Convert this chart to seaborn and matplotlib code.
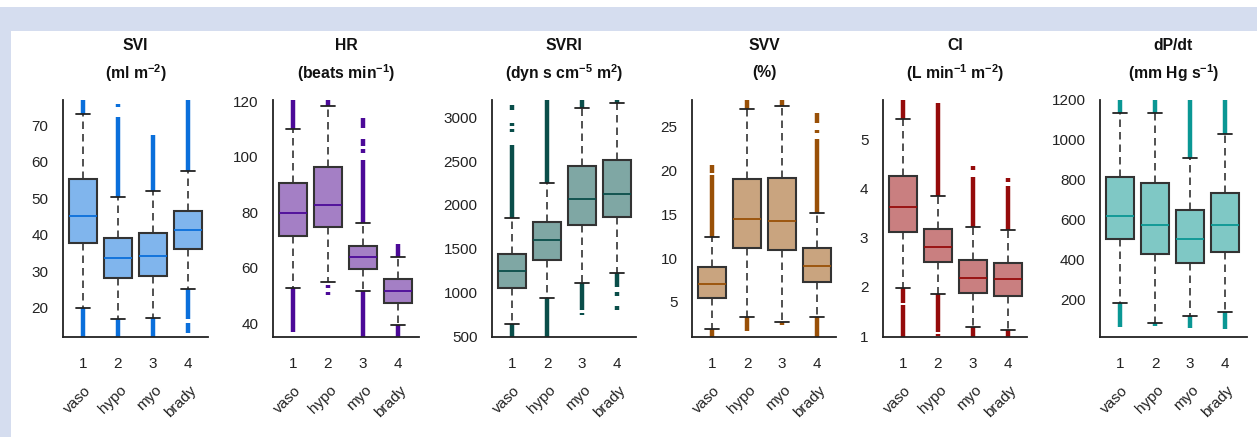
import matplotlib
matplotlib.use("Agg")
import matplotlib.pyplot as plt
import matplotlib.transforms as mtransforms
from matplotlib.patches import Rectangle
import numpy as np
import pandas as pd
import seaborn as sns

groups = ["1", "2", "3", "4"]
group_names = ["vaso", "hypo", "myo", "brady"]

titles = ["SVI", "HR", "SVRI", "SVV", "CI", "dP/dt"]
units = [r"(ml m$^{-2}$)", r"(beats min$^{-1}$)", r"(dyn s cm$^{-5}$ m$^{2}$)",
         "(%)", r"(L min$^{-1}$ m$^{-2}$)", r"(mm Hg s$^{-1}$)"]

# five number summaries per group: whisker low, q1, median, q3, whisker high
svi_stats = [[20, 37.7, 45.2, 55.4, 73.1], [16.9, 28.1, 33.7, 39.2, 50.5],
             [17.1, 28.7, 34.2, 40.4, 52.1], [25.3, 36.0, 41.3, 46.6, 57.4]]
hr_stats = [[52.5, 71.6, 79.9, 90.7, 110.1], [54.7, 74.6, 82.6, 96.5, 118.2],
            [51.7, 59.7, 63.9, 67.8, 76.2], [39.2, 47.4, 51.6, 55.8, 63.9]]
svri_stats = [[640, 1045, 1245, 1443, 1852], [932, 1370, 1598, 1807, 2253],
              [1106, 1776, 2068, 2443, 3114], [1219, 1860, 2125, 2510, 3170]]
svv_stats = [[1.94, 5.45, 7.08, 8.97, 12.37], [3.33, 11.1, 14.45, 18.98, 26.97],
             [2.69, 10.9, 14.27, 19.06, 27.26], [3.33, 7.27, 9.09, 11.1, 15.1]]
ci_stats = [[1.97, 3.12, 3.62, 4.26, 5.41], [1.85, 2.50, 2.82, 3.18, 3.85],
            [1.19, 1.88, 2.19, 2.55, 3.22], [1.12, 1.81, 2.16, 2.48, 3.16]]
dpdt_stats = [[183, 501, 618, 815, 1133], [80, 427, 573, 782, 1133],
              [113, 381, 501, 648, 911], [138, 436, 573, 732, 1028]]

# outlier runs (dense dots) per group as (from, to)
svi_out = [[(73.1, 77), (12, 20)],
           [(50.5, 72.3), (75.2, 76), (12, 16.9)],
           [(52.1, 67.4), (12, 17.1)],
           [(57.4, 77), (16.8, 25.3), (13, 15.8)]]
hr_out = [[(110.1, 120.5), (36.8, 52.5)],
          [(118.2, 120.5), (50.1, 51.2), (52.6, 53.8)],
          [(76.2, 98.8), (101.5, 103), (104, 106.3), (110.5, 114), (35, 51.7)],
          [(63.9, 68.7), (35, 39.2)]]
svri_out = [[(1852, 2690), (2830, 2870), (2900, 2940), (3090, 3140), (490, 640)],
            [(2253, 3200), (490, 932)],
            [(3114, 3200), (795, 1106), (745, 770)],
            [(3170, 3200), (1060, 1219), (960, 1000), (800, 840)]]
svv_out = [[(12.37, 19.5), (19.7, 20.6), (1.0, 1.94)],
           [(26.97, 28), (1.73, 3.33)],
           [(27.26, 28), (2.4, 2.69)],
           [(15.1, 23.6), (24.2, 24.6), (25.4, 26.5), (1.0, 3.33)]]
ci_out = [[(5.41, 5.8), (0.98, 1.63), (1.67, 1.97)],
          [(3.85, 5.73), (1.0, 1.05), (1.08, 1.85)],
          [(3.22, 4.23), (4.38, 4.46), (0.97, 1.19)],
          [(3.16, 4.05), (4.13, 4.21), (0.97, 1.12)]]
dpdt_out = [[(1133, 1200), (60, 183)],
            [(1133, 1200), (66, 80)],
            [(911, 1200), (55, 113)],
            [(1028, 1200), (49, 138)]]

all_stats = [svi_stats, hr_stats, svri_stats, svv_stats, ci_stats, dpdt_stats]
all_out = [svi_out, hr_out, svri_out, svv_out, ci_out, dpdt_out]

ylims = [(12, 77), (35, 120.5), (490, 3200), (1.0, 28), (0.98, 5.8), (10, 1200)]
yticks = [[20, 30, 40, 50, 60, 70], [40, 60, 80, 100, 120],
          [500, 1000, 1500, 2000, 2500, 3000], [5, 10, 15, 20, 25],
          [1, 2, 3, 4, 5], [200, 400, 600, 800, 1000, 1200]]

fills = ["#80b5ed", "#a47fc5", "#7fa7a4", "#c9a47f", "#c97f80", "#7fc8c5"]
darks = ["#0a6fdb", "#4c0a98", "#0a4e4a", "#995007", "#950b0b", "#0a9794"]

sns.set_style("white")
plt.rcParams["font.family"] = ["Liberation Sans", "DejaVu Sans"]
plt.rcParams["mathtext.fontset"] = "custom"
plt.rcParams["mathtext.rm"] = "Liberation Sans:bold"
plt.rcParams["mathtext.bf"] = "Liberation Sans:bold"
plt.rcParams["mathtext.default"] = "bf"

W, H = 1257, 437
fig = plt.figure(figsize=(W / 100, H / 100), dpi=100)
fig.patch.set_facecolor("white")
band = "#d5ddef"
fig.patches.append(Rectangle((0, 1 - 31 / H), 1, 24 / H, transform=fig.transFigure,
                             facecolor=band, edgecolor="none", zorder=0))
fig.patches.append(Rectangle((0, 0), 11 / W, 1 - 7 / H, transform=fig.transFigure,
                             facecolor=band, edgecolor="none", zorder=0))

# panel left edges and widths in pixels
lefts = [63, 273, 492, 692, 883, 1100]
widths = [145, 146, 144, 144, 144, 147]
bottom_px, top_px = 337, 100
step = 35.0

for k in range(6):
    ax = fig.add_axes([lefts[k] / W, 1 - bottom_px / H, widths[k] / W,
                       (bottom_px - top_px) / H])
    rows = []
    for g, st in zip(groups, all_stats[k]):
        for v in st:
            rows.append({"group": g, "value": v})
    df = pd.DataFrame(rows)

    for i, runs in enumerate(all_out[k]):
        for lo, hi in runs:
            ax.vlines(i, lo, hi, color=darks[k], lw=3.2, zorder=1)

    sns.boxplot(data=df, x="group", y="value", order=groups, ax=ax,
                color=fills[k], saturation=1, width=0.82, whis=(0, 100),
                showfliers=False, linewidth=1.5, linecolor="#333333",
                medianprops=dict(color=darks[k], lw=1.3),
                whiskerprops=dict(color="#333333", lw=1.2, linestyle=(0, (4.5, 3))),
                capprops=dict(color="#222222", lw=1.3),
                boxprops=dict(zorder=3), zorder=3)

    x0 = -20 / step
    ax.set_xlim(x0, x0 + widths[k] / step)
    ax.set_ylim(*ylims[k])
    ax.set_yticks(yticks[k])
    ax.set_xlabel("")
    ax.set_ylabel("")
    sns.despine(ax=ax)
    for s in ["left", "bottom"]:
        ax.spines[s].set_color("#222222")
        ax.spines[s].set_linewidth(1.3)
    ax.tick_params(axis="both", direction="out", length=5.5, width=1.2,
                   color="#222222", labelsize=11, labelcolor="#222222")
    ax.tick_params(axis="x", pad=9)
    ax.tick_params(axis="y", pad=5)

    tr = mtransforms.blended_transform_factory(ax.transData, ax.transAxes)
    for i, name in enumerate(group_names):
        ax.text(i + 0.03, -0.195, name, transform=tr, rotation=45,
                rotation_mode="anchor", ha="right", va="top", fontsize=11,
                color="#222222")

    ax.text(0.5, (bottom_px - 46) / (bottom_px - top_px), titles[k],
            transform=ax.transAxes, ha="center", va="center", fontsize=11.3,
            fontweight="bold", color="#111111")
    ax.text(0.5, (bottom_px - 73) / (bottom_px - top_px), units[k],
            transform=ax.transAxes, ha="center", va="center", fontsize=11.3,
            fontweight="bold", color="#111111")

fig.savefig("out.png", dpi=100)
